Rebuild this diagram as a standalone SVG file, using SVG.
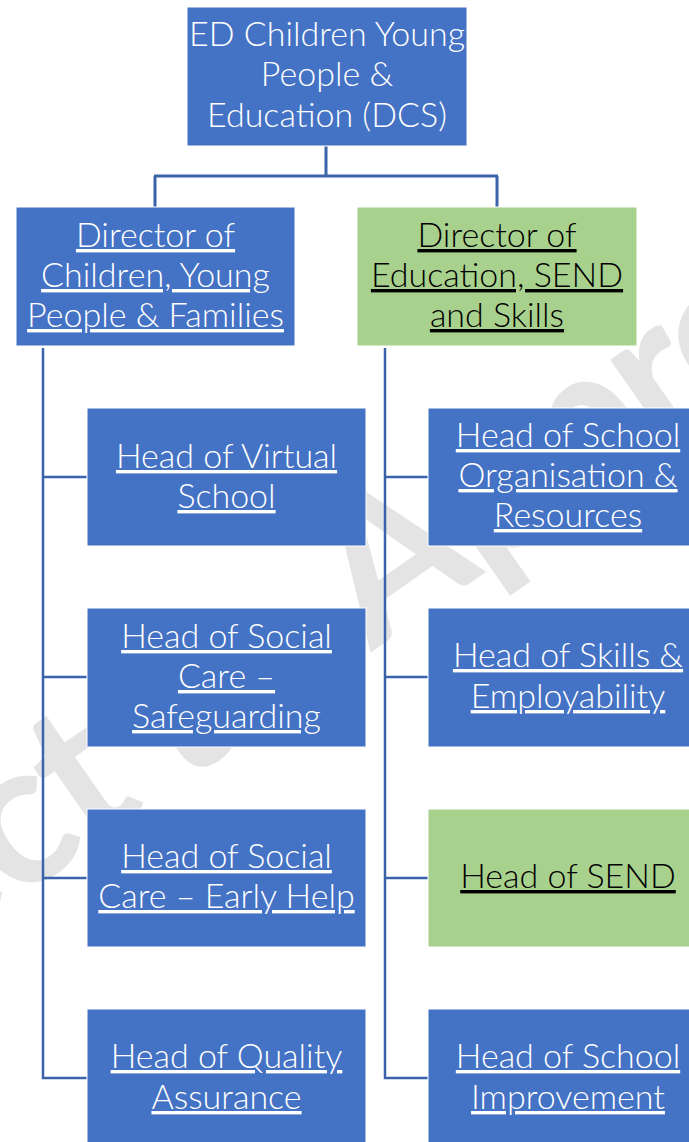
<svg xmlns="http://www.w3.org/2000/svg" width="689" height="1142" viewBox="0 0 689 1142">
<style>
.bx{fill:#4472C4;stroke:#ffffff;stroke-width:1}
.gr{fill:#A9D18E;stroke:#ffffff;stroke-width:1}
.t{font-family:Lato,"Open Sans","Liberation Sans",sans-serif;font-weight:300;font-size:34px;text-anchor:middle}
.w{fill:#ffffff}
.k{fill:#000000}
.u{text-decoration:underline}
.ln{fill:none;stroke:#3b63aa;stroke-width:2.5}
.wm{font-family:Lato,"Liberation Sans",sans-serif;font-weight:700;font-size:200px;letter-spacing:-5px;fill:#e4e4e4}
</style>
<rect width="689" height="1142" fill="#ffffff"/>
<g id="watermark" transform="translate(428.8,611.8) rotate(-35)">
<text class="wm" x="-125" y="0" text-anchor="end">Subject to</text>
<text class="wm" x="-70" y="0">Approval</text>
</g>
<g id="connectors">
<path class="ln" style="stroke-width:3" d="M326,146 V176 M154,176 H498 M155,176 V207 M497,176 V207"/>
<path class="ln" d="M43,348 V1078 H87 M43,477 H87 M43,677 H87 M43,878 H87"/>
<path class="ln" d="M385,348 V1078 H428 M385,477 H428 M385,677 H428 M385,878 H428"/>
</g>
<g id="ed">
<rect class="bx" x="187" y="7" width="280" height="139"/>
<text class="t w"><tspan x="327" y="46">ED Children Young</tspan><tspan x="327" y="86">People &amp;</tspan><tspan x="327" y="127">Education (DCS)</tspan></text>
</g>
<g id="dir-cypf">
<rect class="bx" x="16" y="207" width="279" height="139"/>
<text class="t w u"><tspan x="155.5" y="247">Director of</tspan><tspan x="155.5" y="287">Children, Young</tspan><tspan x="155.5" y="327">People &amp; Families</tspan></text>
</g>
<g id="dir-ess">
<rect class="gr" x="357" y="207" width="280" height="139"/>
<text class="t k u"><tspan x="497" y="247">Director of</tspan><tspan x="497" y="287">Education, SEND</tspan><tspan x="497" y="327">and Skills</tspan></text>
</g>
<g id="virtual-school">
<rect class="bx" x="87" y="408" width="279" height="138"/>
<text class="t w u"><tspan x="226.5" y="468">Head of Virtual</tspan><tspan x="226.5" y="508">School</tspan></text>
</g>
<g id="safeguarding">
<rect class="bx" x="87" y="608" width="279" height="139"/>
<text class="t w u"><tspan x="226.5" y="648">Head of Social</tspan><tspan x="226.5" y="688">Care –</tspan><tspan x="226.5" y="728">Safeguarding</tspan></text>
</g>
<g id="early-help">
<rect class="bx" x="87" y="809" width="279" height="138"/>
<text class="t w u"><tspan x="226.5" y="868">Head of Social</tspan><tspan x="226.5" y="908">Care – Early Help</tspan></text>
</g>
<g id="quality">
<rect class="bx" x="87" y="1009" width="279" height="139"/>
<text class="t w u"><tspan x="226.5" y="1068">Head of Quality</tspan><tspan x="226.5" y="1109">Assurance</tspan></text>
</g>
<g id="school-org">
<rect class="bx" x="428" y="408" width="280" height="138"/>
<text class="t w u"><tspan x="568" y="447">Head of School</tspan><tspan x="568" y="487">Organisation &amp;</tspan><tspan x="568" y="527">Resources</tspan></text>
</g>
<g id="skills">
<rect class="bx" x="428" y="608" width="280" height="139"/>
<text class="t w u"><tspan x="568" y="667">Head of Skills &amp;</tspan><tspan x="568" y="708">Employability</tspan></text>
</g>
<g id="send">
<rect class="gr" x="428" y="809" width="280" height="138"/>
<text class="t k u" x="568" y="888">Head of SEND</text>
</g>
<g id="school-improvement">
<rect class="bx" x="428" y="1009" width="280" height="139"/>
<text class="t w u"><tspan x="568" y="1068">Head of School</tspan><tspan x="568" y="1109">Improvement</tspan></text>
</g>
</svg>
